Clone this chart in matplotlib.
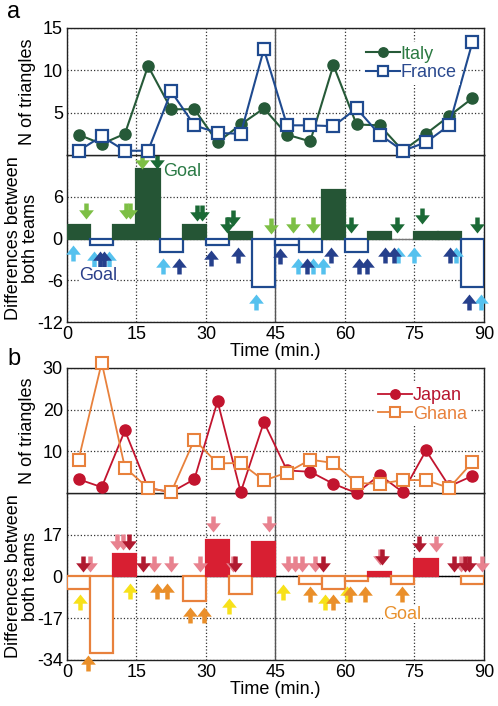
import matplotlib
matplotlib.use('Agg')
import matplotlib.pyplot as plt
from matplotlib.path import Path

plt.rcParams['font.family'] = ['Liberation Sans', 'DejaVu Sans']
plt.rcParams['font.size'] = 13
plt.rcParams['axes.unicode_minus'] = False

# centre of each 5 minute window
times = [2.5, 7.5, 12.5, 17.5, 22.5, 27.5, 32.5, 37.5, 42.5,
         47.5, 52.5, 57.5, 62.5, 67.5, 72.5, 77.5, 82.5, 87.5]

# --- panel a: Italy vs France ---
italy = [2.4, 1.3, 2.5, 10.5, 5.4, 5.4, 1.5, 3.6, 5.5,
         2.4, 1.6, 10.6, 3.6, 3.5, 0.5, 2.5, 4.6, 6.7]
france = [0.5, 2.2, 0.5, 0.5, 7.5, 3.5, 2.6, 2.5, 12.5,
          3.5, 3.5, 3.4, 5.5, 2.4, 0.5, 1.5, 3.5, 13.3]
diff_a = [2, -1, 2, 10, -2, 2, -1, 1, -7, -1, -2, 7, -2, 1, 0, 1, 1, -7]

italy_dark_t = [19.4, 28.1, 29.1, 34.5, 35.9, 61.2, 71.2, 76.6, 88.6]
italy_dark_v = [11.2, 3.7, 3.7, 2.0, 3.0, 2.0, 2.0, 3.2, 2.0]
italy_light_t = [4.1, 12.7, 13.7, 16.1, 44.0, 48.8, 53.0]
italy_light_v = [3.9, 3.9, 3.9, 11.2, 1.8, 2.0, 2.0]
france_dark_t = [7.1, 7.9, 24.2, 31.1, 37.0, 46.0, 51.8, 56.9, 63.0, 64.8, 68.7, 70.5, 82.6, 86.7]
france_dark_v = [-2.9, -2.9, -4.0, -2.8, -2.3, -2.5, -4.0, -2.3, -4.0, -4.0, -2.3, -2.3, -2.3, -9.1]
france_light_t = [1.2, 5.8, 9.1, 20.8, 40.9, 49.8, 53.1, 55.2, 71.5, 75.0, 84.0, 89.4]
france_light_v = [-2.1, -2.9, -2.9, -4.0, -9.1, -4.0, -4.0, -4.0, -2.3, -2.3, -2.3, -9.1]

# --- panel b: Japan vs Ghana ---
japan = [3.3, 1.4, 15.0, 1.2, 0.2, 3.3, 22.0, 0.2, 17.0,
         5.4, 5.1, 2.2, 0.0, 4.3, 0.2, 10.2, 1.6, 4.1]
ghana = [8.0, 31.3, 6.1, 1.2, 0.2, 12.8, 7.1, 7.2, 3.0,
         4.9, 8.0, 7.2, 2.4, 2.2, 3.1, 3.1, 1.2, 7.4]
diff_b = [-5, -31, 9, 0, 0, -10, 15, -7, 14, 0, -3, -5, -2, 2, -3, 7, 0, -3]

japan_dark_t = [3.5, 13.3, 16.4, 36.2, 55.2, 68.1, 76.0, 83.5, 86.0, 86.8]
japan_dark_v = [5, 14, 5, 5, 5, 7.8, 13.3, 5, 5, 5]
japan_light_t = [5.0, 10.8, 12.0, 18.8, 22.5, 28.7, 31.6, 35.8, 43.7, 47.8, 49.2, 50.7, 53.5, 67.6, 79.6, 85.0, 89.5]
japan_light_v = [5, 14, 14, 5, 5, 5, 21.2, 5, 21.2, 5, 5, 5, 5, 7.8, 13.3, 5, 5]
ghana_yellow_t = [2.8, 13.6, 34.9, 46.7, 55.7, 60.4]
ghana_yellow_v = [-10.5, -5.9, -12.0, -6.2, -10.3, -7.0]
ghana_orange_t = [4.6, 19.4, 21.5, 26.6, 29.6, 52.4, 57.4, 61.1, 64.3, 72.4]
ghana_orange_v = [-35.2, -5.9, -5.9, -15.5, -15.5, -7.2, -10.3, -7.0, -7.0, -7.0]

xticks = [0, 15, 30, 45, 60, 75, 90]

# arrow shaped markers
down_verts = [(-0.28, 1), (0.28, 1), (0.28, 0.15), (0.92, 0.15), (0, -1),
              (-0.92, 0.15), (-0.28, 0.15), (-0.28, 1)]
down_arrow = Path(down_verts, closed=True)
up_arrow = Path([(x, -y) for x, y in down_verts], closed=True)


def arrows(ax, t, v, color, up):
    ax.plot(t, v, ls='none', marker=up_arrow if up else down_arrow, ms=11.5,
            mfc=color, mec=color, mew=0, clip_on=False, zorder=4)


def style_axes(ax, ylim, yticks, show_x):
    ax.set_xlim(0, 90)
    ax.set_ylim(*ylim)
    ax.set_xticks(xticks)
    ax.set_yticks(yticks)
    ax.tick_params(length=0, pad=3, labelsize=13)
    if not show_x:
        ax.tick_params(labelbottom=False)
    ax.grid(True, ls=':', color='#333333', lw=0.9)
    ax.set_axisbelow(True)
    ax.axvline(45, color='#555555', lw=1, zorder=1)
    for s in ax.spines.values():
        s.set_color('#222222')
        s.set_linewidth(1)


def bars(ax, diff, pos_color, neg_color):
    face = []
    edge = []
    for d in diff:
        if d > 0:
            face.append(pos_color)
            edge.append(pos_color)
        elif d < 0:
            face.append('white')
            edge.append(neg_color)
        else:
            face.append('none')
            edge.append('none')
    ax.bar(times, diff, width=5, color=face, edgecolor=edge, linewidth=1.6, zorder=3)


fig = plt.figure(figsize=(4.98, 7.06), dpi=100)
L, W = 0.1345, 0.8373

# ---------- panel a ----------
ax1b = fig.add_axes([L, 0.5439, W, 0.2365])
ax1 = fig.add_axes([L, 0.7805, W, 0.1799])

c_italy = '#265a38'
c_france = '#1f4a8f'
ax1.plot(times, italy, '-o', color=c_italy, ms=8, lw=1.5, label='Italy', clip_on=False, zorder=3)
ax1.plot(times, france, '-s', color=c_france, mfc='white', mew=1.6, ms=8.5, lw=1.5,
         label='France', clip_on=False, zorder=3)
style_axes(ax1, (0, 15), [5, 10, 15], False)
ax1.set_ylabel('N of triangles')
ax1.yaxis.set_label_coords(-0.075, 0.5)
leg = ax1.legend(loc='upper right', bbox_to_anchor=(0.965, 0.96), handlelength=1.9,
                 handletextpad=0.05, labelspacing=0.1, borderpad=0.2, markerscale=0.85,
                 frameon=True, framealpha=1, edgecolor='none', fancybox=False, fontsize=13)
for txt, c in zip(leg.get_texts(), ['#2c7a42', '#2b4a8f']):
    txt.set_color(c)

bars(ax1b, diff_a, '#255535', c_france)
ax1b.axhline(0, color='#777777', lw=1, zorder=2)
style_axes(ax1b, (-12, 12), [-12, -6, 0, 6], True)
arrows(ax1b, italy_light_t, italy_light_v, '#7dbf45', False)
arrows(ax1b, italy_dark_t, italy_dark_v, '#1b6a36', False)
arrows(ax1b, france_light_t, france_light_v, '#55c1ee', True)
arrows(ax1b, france_dark_t, france_dark_v, '#26408c', True)
ax1b.text(20.8, 9.7, 'Goal', color='#2a7a45', fontsize=13, va='center', zorder=5)
ax1b.text(2.6, -5.3, 'Goal', color='#2a3f8a', fontsize=13, va='center', zorder=5,
          bbox=dict(fc='white', ec='none', pad=0))
ax1b.set_ylabel('Differences between\nboth teams', linespacing=1.0)
ax1b.yaxis.set_label_coords(-0.068, 0.5)
ax1b.set_xlabel('Time (min.)', labelpad=0)

# ---------- panel b ----------
ax2b = fig.add_axes([L, 0.0652, W, 0.2365])
ax2 = fig.add_axes([L, 0.3017, W, 0.1771])

c_japan = '#c2142e'
c_ghana = '#e8813c'
ax2.plot(times, japan, '-o', color=c_japan, ms=8, lw=1.3, label='Japan', clip_on=False, zorder=3)
ax2.plot(times, ghana, '-s', color=c_ghana, mfc='white', mew=1.5, ms=8.5, lw=1.3,
         label='Ghana', clip_on=False, zorder=3)
style_axes(ax2, (0, 30), [10, 20, 30], False)
ax2.set_ylabel('N of triangles')
ax2.yaxis.set_label_coords(-0.075, 0.5)
leg = ax2.legend(loc='upper right', bbox_to_anchor=(0.99, 0.95), handlelength=1.9,
                 handletextpad=0.05, labelspacing=0.1, borderpad=0.2, markerscale=0.85,
                 frameon=True, framealpha=1, edgecolor='none', fancybox=False, fontsize=13)
for txt, c in zip(leg.get_texts(), ['#b8142e', '#e8813c']):
    txt.set_color(c)

bars(ax2b, diff_b, '#d81f32', c_ghana)
ax2b.axhline(0, color='black', lw=1, zorder=2)
style_axes(ax2b, (-34, 34), [-34, -17, 0, 17], True)
arrows(ax2b, japan_light_t, japan_light_v, '#e8828f', False)
arrows(ax2b, japan_dark_t, japan_dark_v, '#b01a30', False)
arrows(ax2b, ghana_yellow_t, ghana_yellow_v, '#f7e11a', True)
arrows(ax2b, ghana_orange_t, ghana_orange_v, '#ea8f2a', True)
ax2b.text(68.2, -15.3, 'Goal', color='#e8902c', fontsize=13, va='center', zorder=5,
          bbox=dict(fc='white', ec='none', pad=0))
ax2b.set_ylabel('Differences between\nboth teams', linespacing=1.0)
ax2b.yaxis.set_label_coords(-0.068, 0.5)
ax2b.set_xlabel('Time (min.)', labelpad=0)

fig.text(0.014, 0.9745, 'a', fontsize=17)
fig.text(0.014, 0.483, 'b', fontsize=17)

fig.savefig('out.png', dpi=100)
